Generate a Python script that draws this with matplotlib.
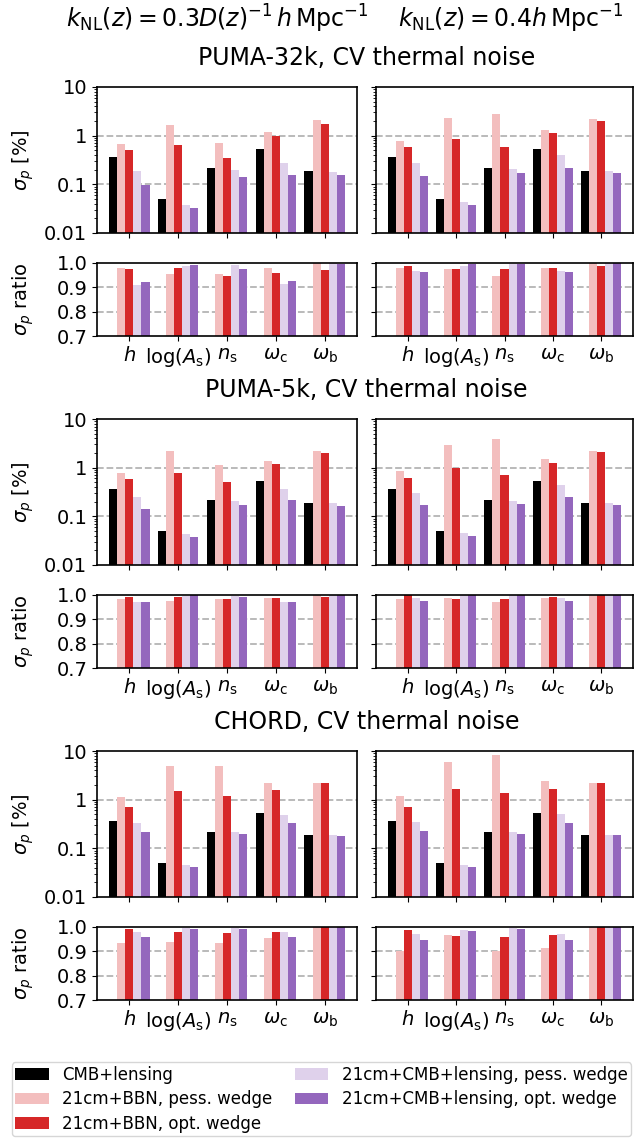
import matplotlib
matplotlib.use("Agg")
import matplotlib.pyplot as plt
import matplotlib.ticker as mticker
import numpy as np

plt.rcParams['font.family'] = ['DejaVu Sans']
plt.rcParams['mathtext.fontset'] = 'dejavusans'

PARAMS = [r"$h$", r"$\log(A_\mathrm{s})$", r"$n_\mathrm{s}$", r"$\omega_\mathrm{c}$", r"$\omega_\mathrm{b}$"]
SERIES = ["CMB+lensing", "21cm+BBN, pess. wedge", "21cm+BBN, opt. wedge",
          "21cm+CMB+lensing, pess. wedge", "21cm+CMB+lensing, opt. wedge"]
COLORS = ["black", "#f3bebe", "#d62728", "#dfd1eb", "#9467bd"]
SECTION_TITLES = ["PUMA-32k, CV thermal noise", "PUMA-5k, CV thermal noise", "CHORD, CV thermal noise"]
HEADERS = [r"$k_\mathrm{NL}(z) = 0.3D(z)^{-1}\,h\,\mathrm{Mpc}^{-1}$",
           r"$k_\mathrm{NL}(z) = 0.4h\,\mathrm{Mpc}^{-1}$"]

# sigma_p [%] for CMB+lensing (same in every panel)
CMB_LENSING = [0.37, 0.049, 0.215, 0.535, 0.187]

# rows: 21cm+BBN pess, 21cm+BBN opt, 21cm+CMB+lensing pess, 21cm+CMB+lensing opt
SIG_PUMA32K_K03 = [[0.67, 1.66, 0.70, 1.19, 2.11],
                   [0.50, 0.64, 0.345, 0.98, 1.74],
                   [0.186, 0.0385, 0.195, 0.27, 0.177],
                   [0.097, 0.0334, 0.14, 0.154, 0.154]]
SIG_PUMA32K_K04 = [[0.77, 2.32, 2.8, 1.31, 2.21],
                   [0.58, 0.85, 0.58, 1.13, 2.01],
                   [0.27, 0.0424, 0.204, 0.40, 0.186],
                   [0.147, 0.0368, 0.169, 0.214, 0.169]]
SIG_PUMA5K_K03 = [[0.79, 2.25, 1.15, 1.40, 2.25],
                  [0.59, 0.79, 0.51, 1.21, 2.04],
                  [0.25, 0.043, 0.207, 0.37, 0.189],
                  [0.142, 0.0373, 0.171, 0.218, 0.164]]
SIG_PUMA5K_K04 = [[0.87, 2.99, 3.8, 1.53, 2.25],
                  [0.62, 0.98, 0.72, 1.27, 2.14],
                  [0.30, 0.045, 0.207, 0.445, 0.189],
                  [0.171, 0.039, 0.18, 0.25, 0.171]]
SIG_CHORD_K03 = [[1.13, 4.97, 4.97, 2.21, 2.21],
                 [0.705, 1.51, 1.19, 1.58, 2.21],
                 [0.33, 0.0465, 0.214, 0.48, 0.186],
                 [0.214, 0.0405, 0.195, 0.33, 0.177]]
SIG_CHORD_K04 = [[1.19, 6.0, 8.4, 2.43, 2.21],
                 [0.705, 1.66, 1.37, 1.66, 2.21],
                 [0.345, 0.0465, 0.214, 0.505, 0.186],
                 [0.225, 0.0405, 0.195, 0.33, 0.186]]

# sigma_p ratio, same row order
RAT_PUMA32K_K03 = [[0.981, 0.956, 0.956, 0.981, 0.998],
                   [0.976, 0.981, 0.947, 0.960, 0.972],
                   [0.910, 0.986, 0.990, 0.914, 0.999],
                   [0.923, 0.990, 0.976, 0.927, 0.995]]
RAT_PUMA32K_K04 = [[0.981, 0.976, 0.947, 0.981, 0.999],
                   [0.989, 0.976, 0.976, 0.981, 0.989],
                   [0.968, 0.989, 0.997, 0.968, 0.999],
                   [0.964, 0.995, 0.995, 0.964, 0.999]]
RAT_PUMA5K_K03 = [[0.982, 0.974, 0.982, 0.986, 0.999],
                  [0.990, 0.990, 0.982, 0.986, 0.990],
                  [0.970, 0.997, 0.997, 0.970, 0.999],
                  [0.970, 0.999, 0.990, 0.970, 0.999]]
RAT_PUMA5K_K04 = [[0.982, 0.986, 0.970, 0.986, 0.999],
                  [0.999, 0.982, 0.982, 0.990, 0.999],
                  [0.986, 0.999, 0.999, 0.986, 0.999],
                  [0.974, 0.999, 0.999, 0.974, 0.999]]
RAT_CHORD_K03 = [[0.935, 0.939, 0.935, 0.956, 0.999],
                 [0.993, 0.981, 0.976, 0.981, 0.999],
                 [0.981, 0.997, 0.997, 0.981, 0.999],
                 [0.960, 0.993, 0.993, 0.960, 0.999]]
RAT_CHORD_K04 = [[0.902, 0.968, 0.902, 0.914, 0.999],
                 [0.989, 0.964, 0.960, 0.968, 0.999],
                 [0.972, 0.989, 0.997, 0.972, 0.999],
                 [0.947, 0.985, 0.993, 0.947, 0.999]]

SIGMAS = [[SIG_PUMA32K_K03, SIG_PUMA32K_K04],
          [SIG_PUMA5K_K03, SIG_PUMA5K_K04],
          [SIG_CHORD_K03, SIG_CHORD_K04]]
RATIOS = [[RAT_PUMA32K_K03, RAT_PUMA32K_K04],
          [RAT_PUMA5K_K03, RAT_PUMA5K_K04],
          [RAT_CHORD_K03, RAT_CHORD_K04]]

W, H = 634, 1138
fig = plt.figure(figsize=(W / 100, H / 100), dpi=100)

def fx(px):
    return px / W

def fy(py):
    return 1 - py / H

x = np.arange(len(PARAMS))
bw = 1 / 6
FS = 14
cols_px = [(97, 357), (376, 633)]
grid_kw = dict(color="#b4b4b4", ls="--", lw=1.3, zorder=0)

handles = None
for s in range(3):
    off = 332 * s
    top_y = (87 + off, 233 + off)
    rat_y = (263 + off, 336 + off)
    for c in range(2):
        x0, x1 = cols_px[c]
        axt = fig.add_axes([fx(x0), fy(top_y[1]), fx(x1 - x0), (top_y[1] - top_y[0]) / H])
        axr = fig.add_axes([fx(x0), fy(rat_y[1]), fx(x1 - x0), (rat_y[1] - rat_y[0]) / H])
        sig = SIGMAS[s][c]
        rat = RATIOS[s][c]
        series_sig = [CMB_LENSING] + sig
        hs = []
        for k in range(5):
            b = axt.bar(x + (k - 2) * bw, series_sig[k], width=bw, color=COLORS[k],
                        label=SERIES[k], zorder=2)
            hs.append(b)
        for k in range(1, 5):
            axr.bar(x + (k - 2) * bw, rat[k - 1], width=bw, color=COLORS[k], zorder=2)
        if handles is None:
            handles = hs
        axt.set_yscale("log")
        axt.set_ylim(0.01, 10)
        axt.yaxis.set_major_locator(mticker.FixedLocator([0.01, 0.1, 1, 10]))
        axt.yaxis.set_major_formatter(mticker.FixedFormatter(["0.01", "0.1", "1", "10"]))
        axt.yaxis.set_minor_locator(mticker.LogLocator(base=10, subs=np.arange(2, 10), numticks=20))
        axt.yaxis.set_minor_formatter(mticker.NullFormatter())
        axt.axhline(0.1, **grid_kw)
        axt.axhline(1, **grid_kw)
        axr.set_ylim(0.7, 1.0)
        axr.set_yticks([0.7, 0.8, 0.9, 1.0])
        axr.set_yticklabels(["0.7", "0.8", "0.9", "1.0"])
        axr.axhline(0.8, **grid_kw)
        axr.axhline(0.9, **grid_kw)
        for ax in (axt, axr):
            ax.set_xlim(-0.66, 4.66)
            ax.set_xticks(x)
            ax.tick_params(labelsize=FS)
            for sp in ax.spines.values():
                sp.set_linewidth(1.2)
        axt.set_xticklabels([])
        axr.set_xticklabels(PARAMS, fontsize=FS)
        if c == 1:
            axt.set_yticklabels([])
            axr.set_yticklabels([])
        else:
            axt.set_ylabel(r"$\sigma_p$ [%]", fontsize=FS)
            axr.set_ylabel(r"$\sigma_p$ ratio", fontsize=FS)
            axt.yaxis.set_label_coords(-0.235, 0.5)
            axr.yaxis.set_label_coords(-0.235, 0.5)
    fig.text(fx(366.5), fy(58 + off), SECTION_TITLES[s], ha="center", va="center", fontsize=17)

fig.text(fx(217), fy(19), HEADERS[0], ha="center", va="center", fontsize=17)
fig.text(fx(511), fy(19), HEADERS[1], ha="center", va="center", fontsize=17)

fig.legend(handles, SERIES, loc="lower left", ncol=2, mode="expand",
           bbox_to_anchor=(fx(12), 0.0015, fx(619), 0.0), borderaxespad=0,
           fontsize=12, fancybox=True, labelspacing=0.4, borderpad=0.2)

fig.savefig("out.png", dpi=100)
